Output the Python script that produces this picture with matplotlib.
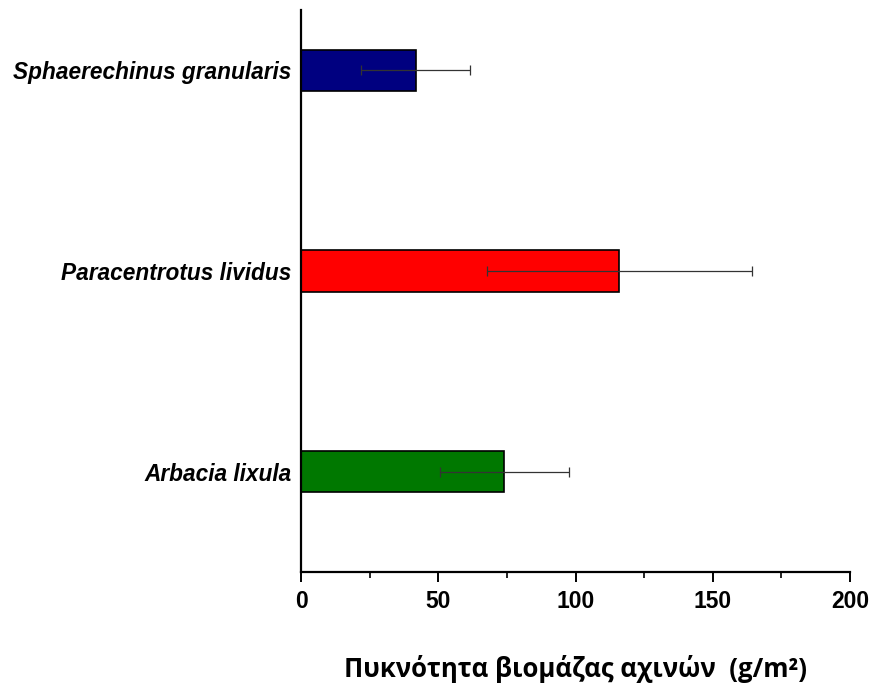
import matplotlib.pyplot as plt
from matplotlib.ticker import MultipleLocator

# sea urchin biomass density, mean and sd (g/m2)
species = ["Arbacia lixula", "Paracentrotus lividus", "Sphaerechinus granularis"]
biomass = [74.0, 116.0, 41.8]
biomass_sd = [23.5, 48.3, 19.9]
colors = ["#007800", "#ff0000", "#000080"]

fig = plt.figure(figsize=(8.73, 6.91), dpi=100)
ax = fig.add_axes([0.3448, 0.1722, 0.6289, 0.8133])

pos = range(len(species))
ax.barh(pos, biomass, height=0.205, color=colors, edgecolor="black", linewidth=1.2)
ax.errorbar(biomass, pos, xerr=biomass_sd, fmt="none", ecolor="#333333",
            elinewidth=0.9, capsize=3.6, capthick=0.9)

ax.set_xlim(0, 200)
ax.set_ylim(-0.5, 2.3)
ax.xaxis.set_major_locator(MultipleLocator(50))
ax.xaxis.set_minor_locator(MultipleLocator(25))

for s in ["top", "right"]:
    ax.spines[s].set_visible(False)
ax.spines["left"].set_linewidth(1.6)
ax.spines["bottom"].set_linewidth(1.6)

ax.tick_params(axis="x", which="major", length=7, width=1.4, direction="out", pad=6)
ax.tick_params(axis="x", which="minor", length=4, width=1.2, direction="out")
ax.tick_params(axis="y", length=0, pad=7)

ax.set_yticks(list(pos))
ax.set_yticklabels(species, fontsize=16.3, fontweight="bold", fontstyle="italic",
                   family="Liberation Sans")
for lab in ax.get_xticklabels():
    lab.set_fontsize(16.5)
    lab.set_fontweight("bold")
    lab.set_family("Liberation Sans")

ax.set_xlabel("Πυκνότητα βιομάζας αχινών  (g/m²)", fontsize=18.5, fontweight="bold",
              family="Open Sans", labelpad=30)

fig.savefig("out.png", dpi=100)
